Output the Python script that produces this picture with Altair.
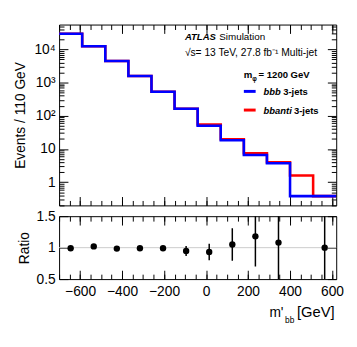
import altair as alt
import pandas as pd

# ---- data ----
edges = [-700, -590, -480, -370, -260, -150, -40, 70, 180, 290, 400, 510, 620]
bbb = [29500, 12500, 4500, 1570, 530, 164, 50, 18.4, 6.6, 3.7, 0.38, 0.38]
bbanti = [29500, 12500, 4500, 1570, 530, 164, 55, 19.7, 7.4, 4.0, 1.6, 0.38]

ratio_x = [-645, -535, -425, -315, -205, -95, 15, 125, 235, 345, 565]
ratio_y = [0.99, 1.02, 0.985, 0.99, 0.99, 0.946, 0.93, 1.05, 1.18, 1.08, 1.0]
ratio_err = [0.01, 0.015, 0.02, 0.02, 0.03, 0.08, 0.13, 0.26, 0.48, 0.9, 1.2]

x_labels = [-600, -400, -200, 0, 200, 400, 600]
x_minor = list(range(-700, 621, 50))
y_decades = [1, 10, 100, 1000, 10000]
y_minor = [m * 10 ** e for e in range(-1, 5) for m in range(2, 10) if 0.2 <= m * 10 ** e <= 56000]
ratio_ticks = [0.5, 1, 1.5]

FONT = "Liberation Sans"
W, H1, H2 = 282, 184, 64
MAJ, MIN = 9, 5

xs = alt.Scale(domain=[-700, 620], nice=False, zero=False)
ys_top = alt.Scale(type="log", domain=[0.2, 56000], nice=False)
ys_rat = alt.Scale(domain=[0.5, 1.5], nice=False, zero=False)


def step_df(vals, name):
    return pd.DataFrame({"x": edges, "y": vals + [vals[-1]], "series": name})


hist = pd.concat([step_df(bbanti, "bbanti"), step_df(bbb, "bbb")])
rat = pd.DataFrame({"x": ratio_x, "y": ratio_y,
                    "lo": [v - e for v, e in zip(ratio_y, ratio_err)],
                    "hi": [v + e for v, e in zip(ratio_y, ratio_err)]})
one = pd.DataFrame({"a": [0]})


def tax(orient, values, size):
    return alt.Axis(orient=orient, values=values, tickSize=size, offset=-size,
                    labels=False, domain=False, grid=False, title=None,
                    ticks=True, tickColor="black", tickWidth=1)


def dummy(df, yscale, xa, ya):
    return alt.Chart(df).mark_point(opacity=0).encode(
        x=alt.X("x:Q", scale=xs, axis=xa),
        y=alt.Y("y:Q", scale=yscale, axis=ya),
    )


def txt(s, x, y, size, weight="normal", style="normal", align="left"):
    return alt.Chart(one).mark_text(text=s, font=FONT, fontSize=size, fontWeight=weight,
                                    fontStyle=style, align=align, baseline="alphabetic",
                                    color="black").encode(x=alt.value(x), y=alt.value(y))


def leg_line(color, y):
    return alt.Chart(one).mark_rule(color=color, strokeWidth=3).encode(
        x=alt.value(188), x2=alt.value(200), y=alt.value(y))


# ---- top panel ----
red_line = alt.Chart(hist).transform_filter("datum.series == 'bbanti'").mark_line(
    interpolate="step-after", color="#ff0000", strokeWidth=2.6, clip=True).encode(
    x=alt.X("x:Q", scale=xs, axis=None),
    y=alt.Y("y:Q", scale=ys_top, axis=None))

blue_line = alt.Chart(hist).transform_filter("datum.series == 'bbb'").mark_line(
    interpolate="step-after", color="#0000ff", strokeWidth=2.6, clip=True).encode(
    x=alt.X("x:Q", scale=xs, axis=None),
    y=alt.Y("y:Q", scale=ys_top, axis=alt.Axis(
        orient="left", values=y_decades, ticks=False, domain=False, grid=False,
        labelExpr="datum.value == 1 ? '1' : datum.value == 10 ? '10' : datum.value == 100 ? '10²' : datum.value == 1000 ? '10³' : '10⁴'",
        labelPadding=4, labelFlush=False, title="Events / 110 GeV",
        titlePadding=4, minExtent=28, maxExtent=28)))

top = alt.layer(
    red_line, blue_line,
    dummy(hist, ys_top, tax("bottom", x_labels, MAJ), tax("left", y_decades, MAJ)),
    dummy(hist, ys_top, tax("bottom", x_minor, MIN), tax("left", y_minor, MIN)),
    dummy(hist, ys_top, tax("top", x_labels, MAJ), tax("right", y_decades, MAJ)),
    dummy(hist, ys_top, tax("top", x_minor, MIN), tax("right", y_minor, MIN)),
    txt("ATLAS", 128, 16, 9.7, "bold", "italic"),
    txt("Simulation", 163, 16, 10),
    txt("√s= 13 TeV, 27.8 fb⁻¹ Multi-jet", 128, 32, 10.4),
    txt("m", 188, 54, 9.8, "bold"),
    txt("φ", 196.5, 57, 6.5, "bold"),
    txt("= 1200 GeV", 203, 54, 9.7, "bold"),
    leg_line("#0000ff", 68),
    leg_line("#ff0000", 87),
    txt("bbb", 208, 72, 9.6, "bold", "italic"),
    txt("3-jets", 228, 72, 9.6, "bold"),
    txt("bbanti", 208, 91, 9.6, "bold", "italic"),
    txt("3-jets", 239, 91, 9.6, "bold"),
).resolve_axis(x="independent", y="independent").properties(width=W, height=H1)

# ---- ratio panel ----
unity = alt.Chart(one).mark_rule(color="#cccccc", strokeWidth=1).encode(
    y=alt.Y(datum=1, scale=ys_rat, axis=None))

errs = alt.Chart(rat).mark_rule(color="black", strokeWidth=1.5, clip=True).encode(
    x=alt.X("x:Q", scale=xs, axis=None),
    y=alt.Y("lo:Q", scale=ys_rat, axis=None), y2="hi:Q")

pts = alt.Chart(rat).mark_circle(color="black", opacity=1, size=42, clip=True).encode(
    x=alt.X("x:Q", scale=xs, axis=alt.Axis(
        orient="bottom", values=x_labels, ticks=False, domain=False, grid=False,
        labelPadding=6, labelFlush=False, title=None)),
    y=alt.Y("y:Q", scale=ys_rat, axis=alt.Axis(
        orient="left", values=ratio_ticks, ticks=False, domain=False, grid=False,
        labelExpr="datum.value == 1 ? '1' : format(datum.value, '.1f')",
        labelPadding=4, labelFlush=False, title="Ratio",
        titlePadding=4, minExtent=24, maxExtent=24)))

bottom = alt.layer(
    unity, errs, pts,
    dummy(rat, ys_rat, tax("bottom", x_labels, MAJ), tax("left", ratio_ticks, MAJ)),
    dummy(rat, ys_rat, tax("bottom", x_minor, MIN), tax("right", ratio_ticks, MAJ)),
    dummy(rat, ys_rat, tax("top", x_labels, MAJ), tax("left", ratio_ticks, 0)),
    dummy(rat, ys_rat, tax("top", x_minor, MIN), tax("right", ratio_ticks, 0)),
    txt("m'", 214, 103, 14),
    txt("bb", 230, 109, 8.5),
    txt("[GeV]", 242, 103, 15),
).resolve_axis(x="independent", y="independent").properties(width=W, height=H2)

chart = alt.vconcat(top, bottom, spacing=2).properties(
    padding={"left": 5, "top": 13, "right": 5, "bottom": 5}
).configure_view(stroke="black", strokeWidth=1).configure_axis(
    labelFont=FONT, titleFont=FONT, labelFontSize=14, titleFontSize=14,
    titleFontWeight="normal", labelColor="black", titleColor="black")

chart.save("out.html", embed_options={"renderer": "svg", "actions": False})
